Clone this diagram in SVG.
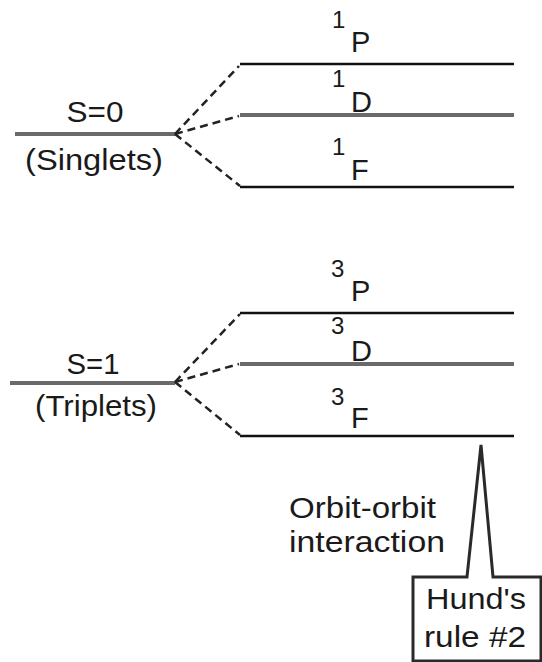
<svg xmlns="http://www.w3.org/2000/svg" width="542" height="662" viewBox="0 0 542 662">
  <style>
    text { font-family: "Liberation Sans", Arial, Helvetica, sans-serif; fill: #1a1a1a; }
    .lbl { font-size: 29px; text-anchor: middle; }
    .term { font-size: 29px; }
    .mult { font-size: 24px; }
    .note { font-size: 30px; }
    .lvl { stroke: #111; stroke-width: 2.5; fill: none; }
    .mid { stroke: #6a6a6a; stroke-width: 4; fill: none; }
    .split { stroke: #222; stroke-width: 2.5; stroke-dasharray: 8 5; fill: none; }
    .callout { stroke: #2a2a2a; stroke-width: 3; fill: #fff; stroke-linejoin: miter; }
  </style>

  <!-- singlet manifold -->
  <g id="singlet-parent">
    <line class="mid" x1="15" y1="134" x2="175" y2="134"/>
    <text class="lbl" x="95" y="122" textLength="57" lengthAdjust="spacingAndGlyphs">S=0</text>
    <text class="lbl" x="94" y="170" textLength="138" lengthAdjust="spacingAndGlyphs">(Singlets)</text>
  </g>
  <g id="level-1P">
    <line class="lvl" x1="240" y1="64" x2="514" y2="64"/>
    <text class="mult" x="332" y="28">1</text>
    <text class="term" x="351" y="52">P</text>
  </g>
  <g id="level-1D">
    <line class="mid" x1="240" y1="115" x2="514" y2="115"/>
    <text class="mult" x="332" y="87">1</text>
    <text class="term" x="351" y="112">D</text>
  </g>
  <g id="level-1F">
    <line class="lvl" x1="240" y1="187" x2="514" y2="187"/>
    <text class="mult" x="332" y="155">1</text>
    <text class="term" x="351" y="180">F</text>
  </g>

  <!-- triplet manifold -->
  <g id="triplet-parent">
    <line class="mid" x1="10" y1="383" x2="175" y2="383"/>
    <text class="lbl" x="93" y="374" textLength="53" lengthAdjust="spacingAndGlyphs">S=1</text>
    <text class="lbl" x="96" y="416" textLength="122" lengthAdjust="spacingAndGlyphs">(Triplets)</text>
  </g>
  <g id="level-3P">
    <line class="lvl" x1="240" y1="313" x2="514" y2="313"/>
    <text class="mult" x="331" y="277">3</text>
    <text class="term" x="351" y="301">P</text>
  </g>
  <g id="level-3D">
    <line class="mid" x1="240" y1="364" x2="514" y2="364"/>
    <text class="mult" x="331" y="334">3</text>
    <text class="term" x="351" y="361">D</text>
  </g>
  <g id="level-3F">
    <line class="lvl" x1="240" y1="436" x2="514" y2="436"/>
    <text class="mult" x="331" y="405">3</text>
    <text class="term" x="351" y="428">F</text>
  </g>

  <!-- splitting connectors -->
  <g id="connectors">
    <line class="split" x1="175" y1="134" x2="239" y2="66"/>
    <line class="split" x1="175" y1="134" x2="239" y2="116"/>
    <line class="split" x1="175" y1="134" x2="240" y2="186"/>
    <line class="split" x1="175" y1="382" x2="240" y2="314"/>
    <line class="split" x1="175" y1="382" x2="239" y2="364"/>
    <line class="split" x1="175" y1="382" x2="240" y2="435"/>
  </g>

  <g id="interaction-label">
    <text class="note" x="289" y="518" textLength="147" lengthAdjust="spacingAndGlyphs">Orbit-orbit</text>
    <text class="note" x="289" y="552" textLength="156" lengthAdjust="spacingAndGlyphs">interaction</text>
  </g>

  <g id="hund-callout">
    <path class="callout" d="M413,577 H467 L481,445 L493,577 H541 V661 H413 Z"/>
    <text class="note" x="476" y="609" text-anchor="middle" textLength="100" lengthAdjust="spacingAndGlyphs">Hund's</text>
    <text class="note" x="475" y="647" text-anchor="middle" textLength="102" lengthAdjust="spacingAndGlyphs">rule #2</text>
  </g>
</svg>
